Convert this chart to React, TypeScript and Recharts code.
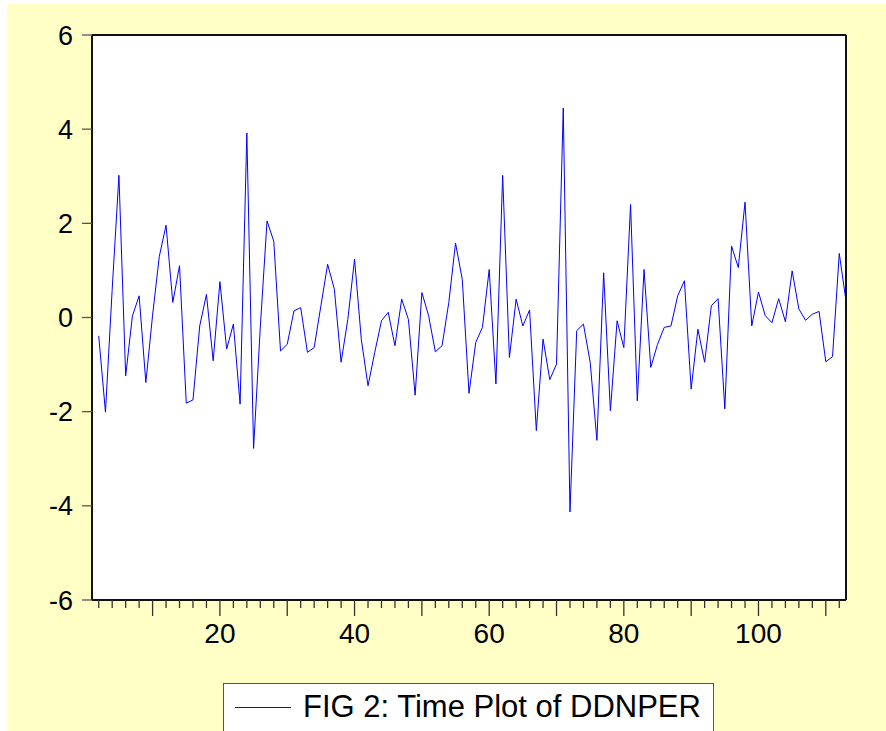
import { LineChart, Line, XAxis, YAxis, CartesianGrid, Legend } from 'recharts';

// DDNPER observations, starting at obs 2 (obs 1 lost to differencing)
const firstObs = 2;
const ddnper = [
  -0.39, -2.01, 0.6, 3.02, -1.24, 0.03, 0.46, -1.38, 0.05, 1.3,
  1.96, 0.32, 1.1, -1.82, -1.75, -0.18, 0.49, -0.92, 0.76, -0.67,
  -0.14, -1.84, 3.92, -2.78, -0.2, 2.05, 1.62, -0.71, -0.57, 0.14,
  0.21, -0.74, -0.64, 0.25, 1.13, 0.6, -0.95, -0.04, 1.24, -0.46,
  -1.45, -0.74, -0.07, 0.11, -0.6, 0.39, -0.04, -1.65, 0.53, 0.04,
  -0.73, -0.6, 0.32, 1.58, 0.81, -1.61, -0.53, -0.21, 1.02, -1.41,
  3.02, -0.85, 0.39, -0.18, 0.16, -2.4, -0.46, -1.32, -0.99, 4.45,
  -4.13, -0.28, -0.14, -0.95, -2.61, 0.95, -1.98, -0.07, -0.64, 2.4,
  -1.77, 1.02, -1.06, -0.57, -0.21, -0.18, 0.46, 0.78, -1.52, -0.25,
  -0.95, 0.25, 0.4, -1.94, 1.52, 1.06, 2.45, -0.18, 0.54, 0.04,
  -0.11, 0.4, -0.09, 0.99, 0.18, -0.06, 0.07, 0.13, -0.94, -0.83,
  1.36, 0.35,
];

const xTicks = [2, 4, 6, 8, 10, 12, 14, 16, 18, 20, 22, 24, 26, 28, 30, 32, 34, 36, 38, 40, 42, 44, 46, 48, 50, 52, 54, 56, 58, 60, 62, 64, 66, 68, 70, 72, 74, 76, 78, 80, 82, 84, 86, 88, 90, 92, 94, 96, 98, 100, 102, 104, 106, 108, 110, 112];
const xLabels = [20, 40, 60, 80, 100];
const yTicks = [-6, -4, -2, 0, 2, 4, 6];
const legendLabel = 'FIG 2: Time Plot of DDNPER';

const data = ddnper.map((v, i) => ({ obs: firstObs + i, value: v }));

const FONT = '"Liberation Sans", Arial, sans-serif';

function XTick({ x, y, payload }: any) {
  const v = payload.value;
  const major = v % 10 === 0;
  return (
    <g>
      <line x1={x} x2={x} y1={y} y2={y + (major ? 16 : 8)} stroke="#333" strokeWidth={1.3} />
      {xLabels.includes(v) && (
        <text x={x} y={y + 43} textAnchor="middle" fontSize={28} fontFamily={FONT} fill="#000">{v}</text>
      )}
    </g>
  );
}

function YTick({ x, y, payload }: any) {
  return (
    <g>
      <line x1={x - 10} x2={x} y1={y} y2={y} stroke="#555" strokeWidth={1.3} />
      <text x={x - 19} y={y + 9.5} textAnchor="end" fontSize={27} fontFamily={FONT} fill="#000">{payload.value}</text>
    </g>
  );
}

function LegendBox() {
  return (
    <div style={{
      width: 491, height: 60, boxSizing: 'border-box', background: '#fff',
      border: '1.5px solid #555', display: 'flex', alignItems: 'flex-start',
    }}>
      <div style={{ width: 56, height: 0, borderTop: '1px solid #0000FF', marginLeft: 11, marginTop: 23 }} />
      <span style={{ fontFamily: FONT, fontSize: 31, color: '#000', marginLeft: 12, marginTop: 5, lineHeight: '36px', whiteSpace: 'nowrap' }}>
        {legendLabel}
      </span>
    </div>
  );
}

export default function App() {
  return (
    <div style={{ position: 'absolute', left: 0, top: 0, width: 886, height: 731, background: '#fff', overflow: 'hidden' }}>
      <div style={{ position: 'absolute', left: 7, top: 4, width: 879, height: 727, background: '#FFFFC6' }} />
      <div style={{ position: 'absolute', left: 0, top: 0 }}>
        <LineChart width={886} height={731} data={data} margin={{ top: 34, right: 39, bottom: 0, left: 0 }}>
          <CartesianGrid fill="#fff" horizontal={false} vertical={false} />
          <XAxis
            xAxisId="b" dataKey="obs" type="number" domain={[1, 113]} ticks={xTicks}
            height={131} tickSize={0} tickMargin={0} tickLine={false} interval={0}
            axisLine={{ stroke: '#111', strokeWidth: 2 }} tick={<XTick />}
          />
          <XAxis
            xAxisId="t" orientation="top" dataKey="obs" type="number" domain={[1, 113]}
            height={1} tick={false} tickLine={false} axisLine={{ stroke: '#111', strokeWidth: 2 }}
          />
          <YAxis
            yAxisId="l" type="number" domain={[-6, 6]} ticks={yTicks} width={92}
            tickSize={0} tickMargin={0} tickLine={false} interval={0}
            axisLine={{ stroke: '#111', strokeWidth: 2 }} tick={<YTick />}
          />
          <YAxis
            yAxisId="r" orientation="right" type="number" domain={[-6, 6]} width={1}
            tick={false} tickLine={false} axisLine={{ stroke: '#111', strokeWidth: 2 }}
          />
          <Legend
            layout="horizontal" verticalAlign="middle" align="center"
            wrapperStyle={{ left: 223, top: 683, width: 491, height: 60 }}
            content={() => <LegendBox />}
          />
          <Line
            xAxisId="b" yAxisId="l" dataKey="value" type="linear" stroke="#0000FF"
            strokeWidth={1} dot={false} activeDot={false} isAnimationActive={false}
          />
        </LineChart>
      </div>
    </div>
  );
}
